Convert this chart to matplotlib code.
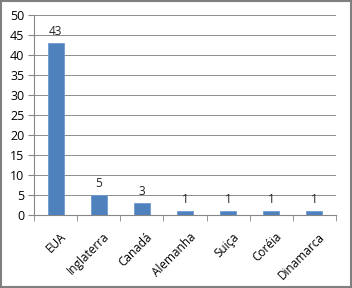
import matplotlib.pyplot as plt
import matplotlib.transforms as mtransforms
import numpy as np

plt.rcParams['font.family'] = ['Open Sans', 'DejaVu Sans']

paises = ['EUA', 'Inglaterra', 'Canadá', 'Alemanha', 'Suiça', 'Coréia', 'Dinamarca']
valores = [43, 5, 3, 1, 1, 1, 1]

fig = plt.figure(figsize=(3.52, 2.88), dpi=100)
ax = fig.add_axes([34 / 352, 73 / 288, 302 / 352, 200 / 288])

x = np.arange(len(paises))
ax.bar(x, valores, width=0.37, color='#4F81BD', edgecolor='#6E9BD1', linewidth=0.6, zorder=3)
for xi, v in zip(x, valores):
    ax.text(xi, v + 1.2, str(v), ha='center', va='bottom', fontsize=8.5, color='#222222')

ax.set_xlim(-0.5, len(paises) - 0.5)
ax.set_ylim(0, 50)
ax.set_yticks(range(0, 51, 5))
ax.grid(axis='y', color='#8c8c8c', linewidth=0.7, zorder=0)

ax.set_xticks(x)
ax.set_xticklabels(paises, rotation=45, ha='right', rotation_mode='anchor', fontsize=8.5)
ax.set_xticks(np.arange(-0.5, len(paises)), minor=True)
ax.tick_params(axis='x', which='major', length=0, pad=11)
ax.tick_params(axis='x', which='minor', length=4, color='#868686', direction='out')
ax.tick_params(axis='y', length=4, color='#868686', labelsize=9, pad=3)

# desloca os rótulos um pouco para a direita, como no Excel
shift = mtransforms.ScaledTranslation(4 / 100, 0, fig.dpi_scale_trans)
for lbl in ax.get_xticklabels():
    lbl.set_transform(lbl.get_transform() + shift)

for s in ['top', 'right']:
    ax.spines[s].set_visible(False)
for s in ['left', 'bottom']:
    ax.spines[s].set_color('#868686')

fig.patches.append(plt.Rectangle((0.002, 0.002), 0.995, 0.995, transform=fig.transFigure,
                                 fill=False, edgecolor='#7f7f7f', linewidth=1.5))

fig.savefig('out.png', dpi=100)
